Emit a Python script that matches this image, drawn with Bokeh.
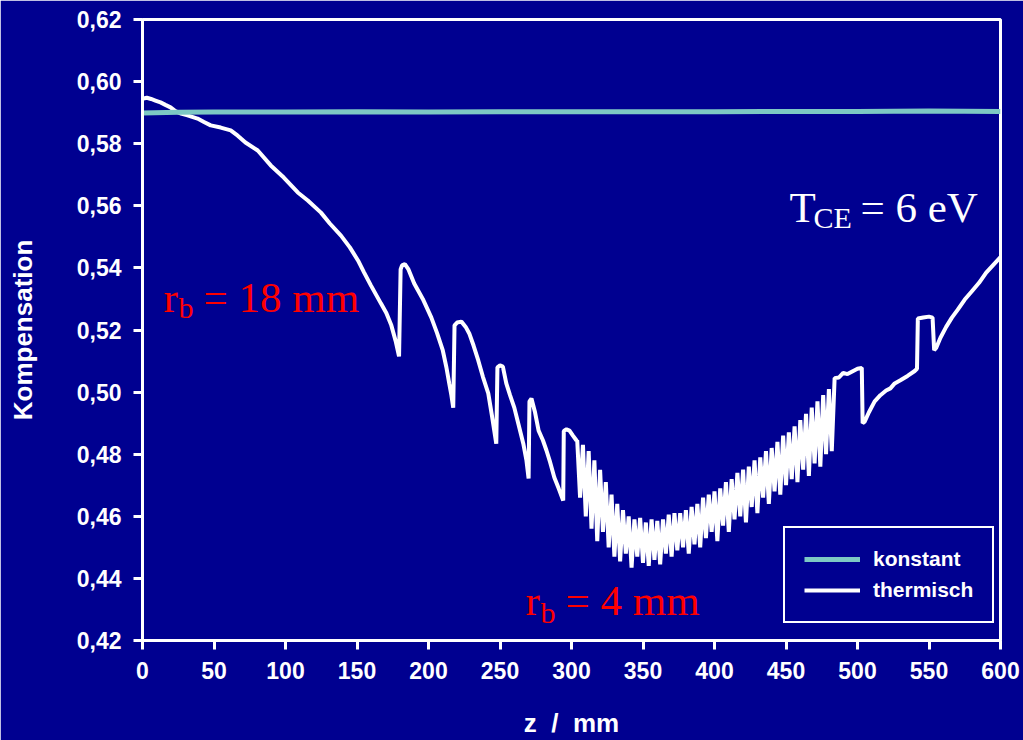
from bokeh.plotting import figure
from bokeh.models import Range1d, FixedTicker, Legend, LegendItem, Label
from bokeh.embed import file_html
from bokeh.resources import INLINE

# ---------------- data ----------------
y_ticks = [0.42, 0.44, 0.46, 0.48, 0.50, 0.52, 0.54, 0.56, 0.58, 0.60, 0.62]
y_tick_labels = ["0,42", "0,44", "0,46", "0,48", "0,50", "0,52", "0,54", "0,56", "0,58", "0,60", "0,62"]
x_ticks = [0, 50, 100, 150, 200, 250, 300, 350, 400, 450, 500, 550, 600]

z_konstant = [0, 25, 50, 100, 150, 200, 250, 300, 350, 400, 450, 500, 550, 600]
k_konstant = [0.5899, 0.5901, 0.5902, 0.5902, 0.5903, 0.5902, 0.5903, 0.5903, 0.5903, 0.5903, 0.5904, 0.5904, 0.5905, 0.5904]

z_thermisch = [
    0, 3, 6, 9, 12.6, 16, 19.6, 23, 27, 31.5, 38.5, 43, 47.7, 54.7, 61.7, 66.6, 72, 80.6, 89.7, 98.8,
    108.6, 115.6, 124.8, 131, 138.8, 145, 150.7, 155, 159.8, 166.8, 170.5, 174, 177, 179.4,
    180.5, 181.5, 183.5, 186, 190, 196, 202, 206, 210, 212.5, 214.5, 216, 217.3,
    218.2, 220, 223, 226, 228.5, 231.5, 234.8, 238, 241.8, 244.5, 247.4,
    248.2, 250, 252, 254.4, 257, 260, 263, 266.3, 268.5, 270,
    270.6, 272, 274.5, 277, 280, 282.5, 285, 288, 291, 294.2,
    294.6, 296.5, 298.6, 301, 303.5,
    304, 306, 308, 310, 312, 314, 316, 318, 320, 322, 324, 326, 328, 330, 332, 334, 336, 338, 340,
    342, 344, 346, 348, 350, 352, 354, 356, 358, 360, 362, 364, 366, 368, 370, 372, 374, 376, 378, 380,
    382, 384, 386, 388, 390, 392, 394, 396, 398, 400, 402, 404, 406, 408, 410, 412, 414, 416, 418, 420,
    422, 424, 426, 428, 430, 432, 434, 436, 438, 440, 442, 444, 446, 448, 450, 452, 454, 456, 458, 460,
    462, 464, 466, 468, 470, 472, 474, 476, 478, 480, 482, 484,
    487, 490, 493, 497, 500, 503, 503.6, 505, 508, 512, 516, 520, 523, 526, 530, 535, 540, 541.6,
    542.2, 546, 550, 552.5, 553.6, 555, 558, 562, 566, 570, 575, 580, 585, 590, 595, 600,
]
k_thermisch = [
    0.5945, 0.5948, 0.5944, 0.5939, 0.5933, 0.5925, 0.5917, 0.5905, 0.5897, 0.5891, 0.5881, 0.5870, 0.5859,
    0.5852, 0.5843, 0.5826, 0.5804, 0.5778, 0.5730, 0.5691,
    0.5643, 0.5617, 0.5578, 0.5543, 0.5504, 0.5466, 0.5424, 0.5385, 0.5343, 0.5285, 0.5255, 0.5215, 0.5165, 0.5115,
    0.5395, 0.5408, 0.5412, 0.5395, 0.5350, 0.5300, 0.5240, 0.5190, 0.5134, 0.5080, 0.5028, 0.4990, 0.4950,
    0.5215, 0.5224, 0.5227, 0.5210, 0.5189, 0.5150, 0.5102, 0.5050, 0.4996, 0.4920, 0.4834,
    0.5080, 0.5086, 0.5082, 0.5028, 0.4990, 0.4950, 0.4895, 0.4834, 0.4780, 0.4722,
    0.4970, 0.4979, 0.4935, 0.4876, 0.4845, 0.4812, 0.4775, 0.4725, 0.4690, 0.4651,
    0.4875, 0.4880, 0.4876, 0.4860, 0.4844,
    0.4845, 0.466, 0.483, 0.460, 0.481, 0.456, 0.478, 0.452, 0.475, 0.455, 0.471, 0.450, 0.467, 0.447, 0.464,
    0.4455, 0.462, 0.448, 0.460,
    0.4435, 0.459, 0.447, 0.4595, 0.445, 0.458, 0.444, 0.459, 0.446, 0.4585, 0.4445, 0.459, 0.448, 0.4605,
    0.447, 0.461, 0.449, 0.461, 0.450, 0.462,
    0.448, 0.463, 0.451, 0.464, 0.450, 0.466, 0.453, 0.467, 0.455, 0.468, 0.452, 0.469, 0.457, 0.471,
    0.455, 0.472, 0.459, 0.474, 0.460, 0.475,
    0.458, 0.476, 0.463, 0.478, 0.461, 0.479, 0.466, 0.481, 0.464, 0.482, 0.468, 0.484, 0.467, 0.486,
    0.470, 0.487, 0.472, 0.489, 0.471, 0.491,
    0.475, 0.493, 0.473, 0.495, 0.477, 0.497, 0.476, 0.499, 0.480, 0.501, 0.481, 0.5045,
    0.5047, 0.5062, 0.5058, 0.5068, 0.5075, 0.5078, 0.4900, 0.4905, 0.4935, 0.4970, 0.4990, 0.5005, 0.5012,
    0.5028, 0.5038, 0.5052, 0.5068, 0.5075,
    0.5237, 0.5240, 0.5243, 0.5240, 0.5135, 0.5142, 0.5175, 0.5210, 0.5240, 0.5265, 0.5298, 0.5325, 0.5352,
    0.5385, 0.5410, 0.5435,
]

# ---------------- style ----------------
BG = "#000090"
TEAL = "#7DC8C4"
SANS = "Liberation Sans"
SERIF = "Liberation Serif"

p = figure(width=1023, height=740, output_backend="svg", toolbar_location=None,
           x_range=Range1d(0, 600), y_range=Range1d(0.42, 0.62))
p.min_border_left = 142
p.min_border_right = 23
p.min_border_top = 19
p.min_border_bottom = 100
p.background_fill_color = BG
p.border_fill_color = BG
p.outline_line_color = "white"
p.outline_line_width = 3
p.xgrid.visible = False
p.ygrid.visible = False

r_t = p.line(z_thermisch, k_thermisch, line_color="white", line_width=4)
r_k = p.line(z_konstant, k_konstant, line_color=TEAL, line_width=5)

for ax in (p.xaxis[0], p.yaxis[0]):
    ax.axis_line_color = "white"
    ax.axis_line_width = 3
    ax.major_tick_line_color = "white"
    ax.major_tick_line_width = 3
    ax.major_tick_out = 9
    ax.major_tick_in = 0
    ax.minor_tick_out = 0
    ax.minor_tick_in = 0
    ax.major_label_text_color = "white"
    ax.major_label_text_font = SANS
    ax.major_label_text_font_style = "bold"
    ax.major_label_text_font_size = "23px"
    ax.major_label_standoff = 12
    ax.axis_label_text_color = "white"
    ax.axis_label_text_font = SANS
    ax.axis_label_text_font_style = "bold"
    ax.axis_label_text_font_size = "26px"

p.xaxis[0].ticker = FixedTicker(ticks=x_ticks)
p.yaxis[0].ticker = FixedTicker(ticks=y_ticks)
p.yaxis[0].major_label_overrides = {t: l for t, l in zip(y_ticks, y_tick_labels)}
p.xaxis[0].axis_label = "z \u00a0/\u00a0 mm"
p.yaxis[0].axis_label = "Kompensation"
p.xaxis[0].axis_label_standoff = 26
p.yaxis[0].axis_label_standoff = 36

legend = Legend(items=[LegendItem(label="konstant", renderers=[r_k]),
                       LegendItem(label="thermisch", renderers=[r_t])],
                location=(641, 17))
legend.background_fill_color = BG
legend.background_fill_alpha = 1
legend.border_line_color = "white"
legend.border_line_alpha = 1
legend.border_line_width = 2
legend.label_text_color = "white"
legend.label_text_font = SANS
legend.label_text_font_style = "bold"
legend.label_text_font_size = "21px"
legend.glyph_width = 56
legend.glyph_height = 24
legend.label_height = 24
legend.label_standoff = 13
legend.spacing = 7
legend.padding = 19
legend.margin = 0
p.add_layout(legend)

def lab(x, y, text, size, color):
    p.add_layout(Label(x=x, y=y, text=text, text_font=SERIF, text_font_size=size,
                       text_color=color, text_align="left", text_baseline="alphabetic"))

RED = "#FF0000"
lab(14.7, 0.5304, "r", "43px", RED)
lab(25.2, 0.5272, "b", "30px", RED)
lab(42.7, 0.5304, "= 18 mm", "43px", RED)

lab(267.8, 0.4328, "r", "43px", RED)
lab(278.3, 0.4290, "b", "30px", RED)
lab(295.8, 0.4328, "= 4 mm", "43px", RED)

lab(452.4, 0.5594, "T", "43px", "white")
lab(469.2, 0.5562, "CE", "30px", "white")
lab(502.1, 0.5594, "= 6 eV", "43px", "white")

open("out.html", "w").write(file_html(p, INLINE))
